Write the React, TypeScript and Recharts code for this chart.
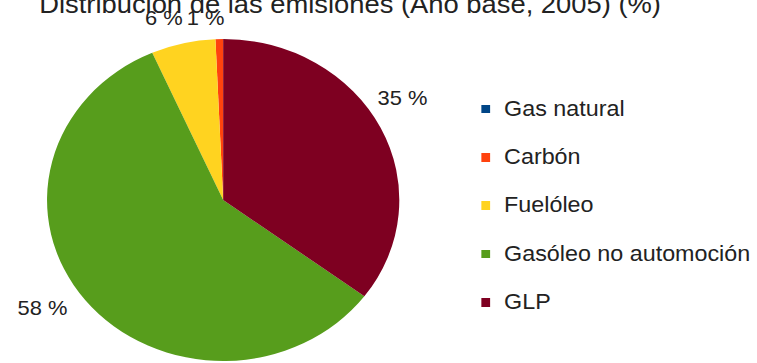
import { PieChart, Pie, Cell, Legend } from "recharts";

// chart data
const TITLE = "Distribución de las emisiones (Año base, 2005) (%)";
const FUELS = ["Gas natural", "Carbón", "Fuelóleo", "Gasóleo no automoción", "GLP"];
const SHARES = [0, 0.7, 5.9, 58.2, 35.2];
const FUEL_COLORS = ["#004586", "#ff420e", "#ffd320", "#579d1c", "#7e0021"];

const pieData = FUELS.map((name, i) => ({ name, value: SHARES[i] }));

// the reference is a bit wider than tall, so the whole chart is stretched horizontally
const STRETCH = 1.094;
const WIDTH = 757;
const HEIGHT = 363;
const INNER_W = WIDTH / STRETCH;
const FONT = "'Liberation Sans', Arial, sans-serif";
const LABEL_SIZE = 20;

type LabelProps = {
    cx?: number;
    cy?: number;
    midAngle?: number;
    outerRadius?: number;
    percent?: number;
    value?: number;
};

// label placed outside the slice, like LibreOffice does
const renderLabel = ({ cx = 0, cy = 0, midAngle = 0, outerRadius = 0, percent = 0, value = 0 }: LabelProps) => {
    if (!value) return null;
    const text = `${Math.round(percent * 100)} %`;
    const rad = (midAngle * Math.PI) / 180;
    const w = text.length * LABEL_SIZE * 0.52;
    const h = LABEL_SIZE * 0.72;
    const support = Math.abs(Math.cos(rad)) * (w / 2) + Math.abs(Math.sin(rad)) * (h / 2);
    const dist = outerRadius + 14 + support;
    const x = cx + dist * Math.cos(rad) - 12;
    const y = Math.max(18, cy - dist * Math.sin(rad) - 14);
    return (
        <text
            x={x}
            y={y + h / 2}
            textAnchor="middle"
            fill="#222"
            fontSize={LABEL_SIZE}
            fontFamily={FONT}
        >
            {text}
        </text>
    );
};

const LegendList = () => (
    <div style={{ fontFamily: FONT, fontSize: 21.3, color: "#222" }}>
        {FUELS.map((name, i) => (
            <div
                key={name}
                style={{ display: "flex", alignItems: "center", height: 48.3, whiteSpace: "nowrap" }}
            >
                <span
                    style={{
                        display: "inline-block",
                        width: 7.5,
                        height: 8.5,
                        background: FUEL_COLORS[i],
                        marginRight: 13.3,
                    }}
                ></span>
                <span style={{ lineHeight: "21px" }}>{name}</span>
            </div>
        ))}
    </div>
);

export default function App() {
    return (
        <div
            style={{
                position: "absolute",
                left: 0,
                top: 0,
                width: WIDTH,
                height: HEIGHT,
                overflow: "hidden",
                background: "#fff",
            }}
        >
            <div
                style={{
                    position: "relative",
                    width: INNER_W,
                    height: HEIGHT,
                    transform: `scaleX(${STRETCH})`,
                    transformOrigin: "0 0",
                }}
            >
                <PieChart width={INNER_W} height={HEIGHT} margin={{ top: 0, right: 0, bottom: 0, left: 0 }}>
                    <Pie
                        data={pieData}
                        dataKey="value"
                        nameKey="name"
                        cx={204}
                        cy={200}
                        outerRadius={161}
                        startAngle={90}
                        endAngle={450}
                        stroke="none"
                        label={renderLabel}
                        labelLine={false}
                        isAnimationActive={false}
                    >
                        {pieData.map((d, i) => (
                            <Cell key={d.name} fill={FUEL_COLORS[i]} />
                        ))}
                    </Pie>
                    <Legend
                        layout="vertical"
                        content={<LegendList />}
                        wrapperStyle={{ left: 440, top: 85, width: 250, bottom: "auto", right: "auto" }}
                    />
                </PieChart>
                <div
                    style={{
                        position: "absolute",
                        left: 0,
                        top: -8,
                        width: 640,
                        textAlign: "center",
                        fontFamily: FONT,
                        fontSize: 25,
                        lineHeight: "25px",
                        color: "#222",
                        whiteSpace: "nowrap",
                    }}
                >
                    {TITLE}
                </div>
            </div>
        </div>
    );
}
